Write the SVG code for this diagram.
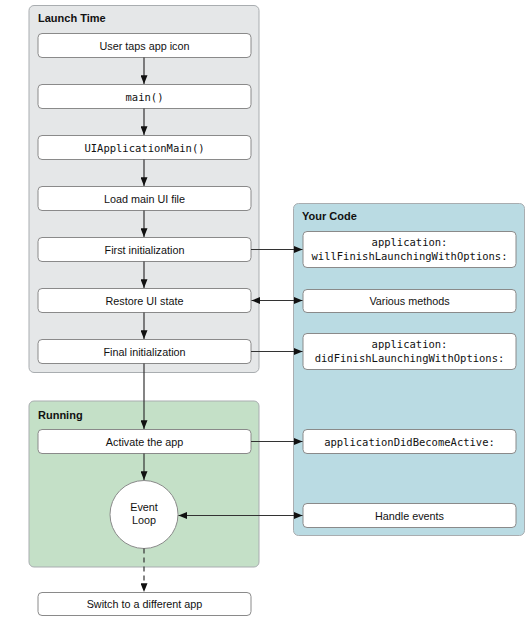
<svg xmlns="http://www.w3.org/2000/svg" width="532" height="631" viewBox="0 0 532 631">
<style>
.panel{stroke:#a9adb0;stroke-width:1}
.box{fill:#fff;stroke:#8a8a8a;stroke-width:1}
.t{font-family:"Liberation Sans",Arial,sans-serif;font-size:10.8px;fill:#111;text-anchor:middle}
.m{font-family:"DejaVu Sans Mono",monospace;font-size:10.5px;fill:#111;text-anchor:middle}
.h{font-family:"Liberation Sans",Arial,sans-serif;font-size:11px;font-weight:bold;fill:#111}
.c{stroke:#333;stroke-width:1.2;fill:none}
</style>
<defs>
<marker id="ah" viewBox="0 0 10 8" refX="10" refY="4" markerWidth="9" markerHeight="7" markerUnits="userSpaceOnUse" orient="auto-start-reverse">
<path d="M0,0 L10,4 L0,8 Z" fill="#111"/>
</marker>
</defs>
<rect width="532" height="631" fill="#fff"/>
<g id="launch-time">
<rect class="panel" x="29" y="5.5" width="230" height="367" rx="5" fill="#e5e7e8"/>
<text class="h" x="38" y="22">Launch Time</text>
</g>
<g id="your-code">
<rect class="panel" x="293.5" y="203.5" width="231" height="332" rx="5" fill="#badbe3"/>
<text class="h" x="302" y="220">Your Code</text>
</g>
<g id="running">
<rect class="panel" x="29" y="401" width="230" height="166" rx="5" fill="#c4e0c7"/>
<text class="h" x="38" y="419">Running</text>
</g>
<g id="n1"><rect class="box" x="38" y="33.5" width="213" height="24" rx="4"/><text class="t" x="144.5" y="49.5">User taps app icon</text></g>
<g id="n2"><rect class="box" x="38" y="84.5" width="213" height="24" rx="4"/><text class="m" x="144.5" y="100.5">main()</text></g>
<g id="n3"><rect class="box" x="38" y="135.5" width="213" height="24" rx="4"/><text class="m" x="144.5" y="151.5">UIApplicationMain()</text></g>
<g id="n4"><rect class="box" x="38" y="186.5" width="213" height="24" rx="4"/><text class="t" x="144.5" y="202.5">Load main UI file</text></g>
<g id="n5"><rect class="box" x="38" y="237.5" width="213" height="24" rx="4"/><text class="t" x="144.5" y="253.5">First initialization</text></g>
<g id="n6"><rect class="box" x="38" y="288.5" width="213" height="24" rx="4"/><text class="t" x="144.5" y="304.5">Restore UI state</text></g>
<g id="n7"><rect class="box" x="38" y="339.5" width="213" height="24" rx="4"/><text class="t" x="144.5" y="355.5">Final initialization</text></g>
<g id="n8"><rect class="box" x="38" y="429.5" width="213" height="24" rx="4"/><text class="t" x="144.5" y="445.5">Activate the app</text></g>
<g id="n9"><circle class="box" cx="144" cy="514.5" r="34"/><text class="t" x="144" y="511">Event</text><text class="t" x="144" y="524">Loop</text></g>
<g id="n10"><rect class="box" x="38" y="592.5" width="213" height="23" rx="4"/><text class="t" x="144.5" y="608">Switch to a different app</text></g>
<g id="c1"><rect class="box" x="303" y="231.5" width="213" height="36" rx="4"/><text class="m" x="409.5" y="246">application:</text><text class="m" x="409.5" y="260">willFinishLaunchingWithOptions:</text></g>
<g id="c2"><rect class="box" x="303" y="289.5" width="213" height="23" rx="4"/><text class="t" x="409.5" y="305">Various methods</text></g>
<g id="c3"><rect class="box" x="303" y="333.5" width="213" height="36" rx="4"/><text class="m" x="409.5" y="348">application:</text><text class="m" x="409.5" y="362">didFinishLaunchingWithOptions:</text></g>
<g id="c4"><rect class="box" x="303" y="429.5" width="213" height="24" rx="4"/><text class="m" x="409.5" y="445.5">applicationDidBecomeActive:</text></g>
<g id="c5"><rect class="box" x="303" y="503.5" width="213" height="24" rx="4"/><text class="t" x="409.5" y="519.5">Handle events</text></g>
<g id="connectors">
<line class="c" x1="144" y1="57.5" x2="144" y2="84" marker-end="url(#ah)"/>
<line class="c" x1="144" y1="108.5" x2="144" y2="135" marker-end="url(#ah)"/>
<line class="c" x1="144" y1="159.5" x2="144" y2="186" marker-end="url(#ah)"/>
<line class="c" x1="144" y1="210.5" x2="144" y2="237" marker-end="url(#ah)"/>
<line class="c" x1="144" y1="261.5" x2="144" y2="288" marker-end="url(#ah)"/>
<line class="c" x1="144" y1="312.5" x2="144" y2="339" marker-end="url(#ah)"/>
<line class="c" x1="144" y1="363.5" x2="144" y2="429" marker-end="url(#ah)"/>
<line class="c" x1="144" y1="453.5" x2="144" y2="480" marker-end="url(#ah)"/>
<line class="c" x1="144" y1="548.5" x2="144" y2="592" stroke-dasharray="5,4" marker-end="url(#ah)"/>
<line class="c" x1="251" y1="249.5" x2="302.5" y2="249.5" marker-end="url(#ah)"/>
<line class="c" x1="251.5" y1="300.5" x2="302.5" y2="300.5" marker-start="url(#ah)" marker-end="url(#ah)"/>
<line class="c" x1="251" y1="351.5" x2="302.5" y2="351.5" marker-end="url(#ah)"/>
<line class="c" x1="251" y1="441.5" x2="302.5" y2="441.5" marker-end="url(#ah)"/>
<line class="c" x1="178.5" y1="515.5" x2="302.5" y2="515.5" marker-start="url(#ah)" marker-end="url(#ah)"/>
</g>
</svg>
